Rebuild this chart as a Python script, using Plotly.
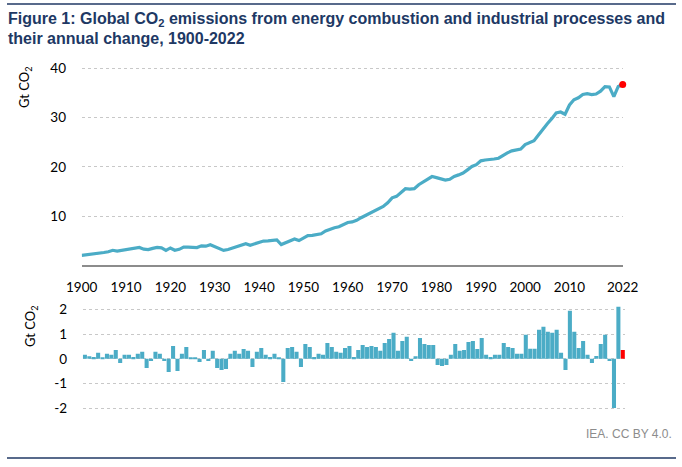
import plotly.graph_objects as go

W, H = 682, 467

years = list(range(1900, 2023))

emissions = [
    2.00, 2.10, 2.17, 2.38, 2.43, 2.60, 2.75, 3.05, 2.90, 3.03,
    3.17, 3.22, 3.40, 3.62, 3.27, 3.18, 3.44, 3.62, 3.53, 3.02,
    3.52, 3.05, 3.24, 3.68, 3.70, 3.72, 3.61, 3.95, 3.88, 4.18,
    3.83, 3.40, 3.02, 3.22, 3.52, 3.72, 4.10, 4.40, 4.08, 4.35,
    4.77, 4.92, 4.98, 5.12, 5.14, 4.22, 4.64, 5.08, 5.34, 5.02,
    5.58, 6.02, 6.08, 6.26, 6.40, 6.98, 7.38, 7.62, 7.82, 8.22,
    8.70, 8.80, 9.14, 9.66, 10.10, 10.58, 11.04, 11.34, 11.94, 12.70,
    13.70, 14.00, 14.70, 15.55, 15.48, 15.56, 16.36, 16.94, 17.48, 18.02,
    17.80, 17.52, 17.30, 17.46, 18.04, 18.36, 18.72, 19.38, 20.06, 20.44,
    21.22, 21.38, 21.44, 21.58, 21.74, 22.36, 22.82, 23.24, 23.42, 23.60,
    24.52, 24.90, 25.30, 26.45, 27.70, 28.75, 29.78, 30.92, 31.14, 30.68,
    32.55, 33.60, 34.02, 34.70, 34.84, 34.68, 34.78, 35.36, 36.30, 36.22,
    34.24, 36.32, 36.70,
]

annual_change = [
    0.16, 0.10, 0.07, 0.24, 0.05, 0.20, 0.16, 0.36, -0.17, 0.16,
    0.16, 0.07, 0.20, 0.28, -0.37, -0.09, 0.28, 0.20, -0.09, -0.53,
    0.52, -0.49, 0.20, 0.48, 0.03, 0.03, -0.13, 0.36, -0.09, 0.32,
    -0.37, -0.45, -0.41, 0.20, 0.32, 0.20, 0.40, 0.32, -0.33, 0.28,
    0.44, 0.16, 0.07, 0.20, 0.03, -0.94, 0.44, 0.48, 0.28, -0.33,
    0.60, 0.48, 0.07, 0.20, 0.16, 0.64, 0.48, 0.28, 0.24, 0.44,
    0.52, 0.07, 0.36, 0.56, 0.48, 0.52, 0.48, 0.32, 0.64, 0.80,
    1.05, 0.32, 0.72, 0.89, -0.09, 0.10, 0.84, 0.60, 0.56, 0.56,
    -0.25, -0.29, -0.25, 0.16, 0.60, 0.32, 0.36, 0.68, 0.72, 0.40,
    0.84, 0.16, 0.07, 0.16, 0.16, 0.64, 0.48, 0.44, 0.20, 0.20,
    0.97, 0.41, 0.41, 1.17, 1.29, 1.09, 1.05, 1.17, 0.24, -0.45,
    1.94, 1.09, 0.44, 0.72, 0.16, -0.17, 0.11, 0.60, 0.97, -0.09,
    -1.99, 2.10, 0.36,
]

x_tick_vals = [1900, 1910, 1920, 1930, 1940, 1950, 1960, 1970, 1980, 1990, 2000, 2010, 2022]
top_y_ticks = [10, 20, 30, 40]
bottom_y_ticks = [-2, -1, 0, 1, 2]
bottom_y_labels = ["-2", "-1", "0", "1", "2"]

title_line1 = "Figure 1: Global CO<sub>2</sub> emissions from energy combustion and industrial processes and"
title_line2 = "their annual change, 1900-2022"
y_title = "Gt CO<sub>2</sub>"
source_text = "IEA. CC BY 4.0."

BLUE = "#4bacc6"
RED = "#ff0000"
NAVY = "#203864"
TICKFONT = dict(family="Lato", size=13.5, color="#000000")
TITLEFONT = dict(family="Liberation Sans", size=16, color=NAVY, weight="bold")


def px_x(p):
    return p / W


def px_y(p):
    return 1 - p / H


fig = go.Figure()

fig.add_trace(go.Scatter(
    x=years, y=emissions, mode="lines",
    line=dict(color=BLUE, width=3.2), xaxis="x", yaxis="y",
    hoverinfo="skip", showlegend=False,
))
fig.add_trace(go.Scatter(
    x=[years[-1]], y=[emissions[-1]], mode="markers",
    marker=dict(color=RED, size=7), xaxis="x", yaxis="y",
    hoverinfo="skip", showlegend=False, cliponaxis=False,
))

bar_colors = [BLUE] * (len(years) - 1) + [RED]
fig.add_trace(go.Bar(
    x=years, y=annual_change, marker=dict(color=bar_colors, line=dict(width=0)),
    xaxis="x2", yaxis="y2", hoverinfo="skip", showlegend=False,
))

fig.update_layout(
    template="none",
    width=W, height=H, autosize=False,
    margin=dict(l=0, r=0, t=0, b=0, pad=0, autoexpand=False),
    paper_bgcolor="white", plot_bgcolor="white",
    font=dict(family="Lato", size=13, color="#000000"),
    bargap=0.08,
    xaxis=dict(
        domain=[px_x(81.7), px_x(622.7)], range=[1900, 2022], anchor="y",
        tickvals=x_tick_vals, ticks="outside", ticklen=9, tickcolor="rgba(0,0,0,0)",
        showline=True, linecolor="#8c8c8c", linewidth=1.5, showgrid=False,
        zeroline=False, tickfont=TICKFONT, fixedrange=True, automargin=False,
    ),
    yaxis=dict(
        domain=[px_y(265.3), px_y(66)], range=[0, 40.47], anchor="x",
        tickvals=top_y_ticks, ticks="outside", ticklen=12, tickcolor="rgba(0,0,0,0)",
        showgrid=True, gridcolor="#c8c8c8", griddash="dot", gridwidth=1,
        zeroline=False, showline=False, tickfont=TICKFONT, fixedrange=True, automargin=False,
    ),
    xaxis2=dict(
        domain=[px_x(82.7), px_x(625)], range=[1899.5, 2022.5], anchor="y2",
        showticklabels=False, ticks="", showgrid=False, showline=False,
        zeroline=False, fixedrange=True, automargin=False,
    ),
    yaxis2=dict(
        domain=[px_y(412.0), px_y(304.35)], range=[-2.15, 2.2], anchor="x2",
        tickvals=bottom_y_ticks, ticktext=bottom_y_labels,
        ticks="outside", ticklen=12, tickcolor="rgba(0,0,0,0)",
        showgrid=True, gridcolor="#c8c8c8", griddash="dot", gridwidth=1,
        zeroline=False, showline=False, tickfont=TICKFONT, fixedrange=True, automargin=False,
    ),
    shapes=[
        dict(type="line", xref="paper", yref="paper",
             x0=px_x(7), x1=px_x(676), y0=px_y(4), y1=px_y(4),
             line=dict(color=NAVY, width=1.5)),
        dict(type="line", xref="paper", yref="paper",
             x0=px_x(7), x1=px_x(676), y0=px_y(458), y1=px_y(458),
             line=dict(color=NAVY, width=1.5)),
    ],
    annotations=[
        dict(text=title_line1, xref="paper", yref="paper", x=px_x(6), y=px_y(20),
             xanchor="left", yanchor="middle", showarrow=False, font=TITLEFONT),
        dict(text=title_line2, xref="paper", yref="paper", x=px_x(6), y=px_y(39),
             xanchor="left", yanchor="middle", showarrow=False, font=TITLEFONT),
        dict(text=y_title, textangle=-90, xref="paper", yref="paper",
             x=px_x(25), y=px_y(88), xanchor="center", yanchor="middle", showarrow=False,
             font=dict(family="Lato", size=13, color="#000000")),
        dict(text=y_title, textangle=-90, xref="paper", yref="paper",
             x=px_x(31), y=px_y(327), xanchor="center", yanchor="middle", showarrow=False,
             font=dict(family="Lato", size=13, color="#000000")),
        dict(text=source_text, xref="paper", yref="paper",
             x=px_x(674), y=px_y(434), xanchor="right", yanchor="middle", showarrow=False,
             font=dict(family="Liberation Sans", size=12, color="#8c8c8c")),
    ],
)

fig.write_html("out.html", config={"displayModeBar": False})
